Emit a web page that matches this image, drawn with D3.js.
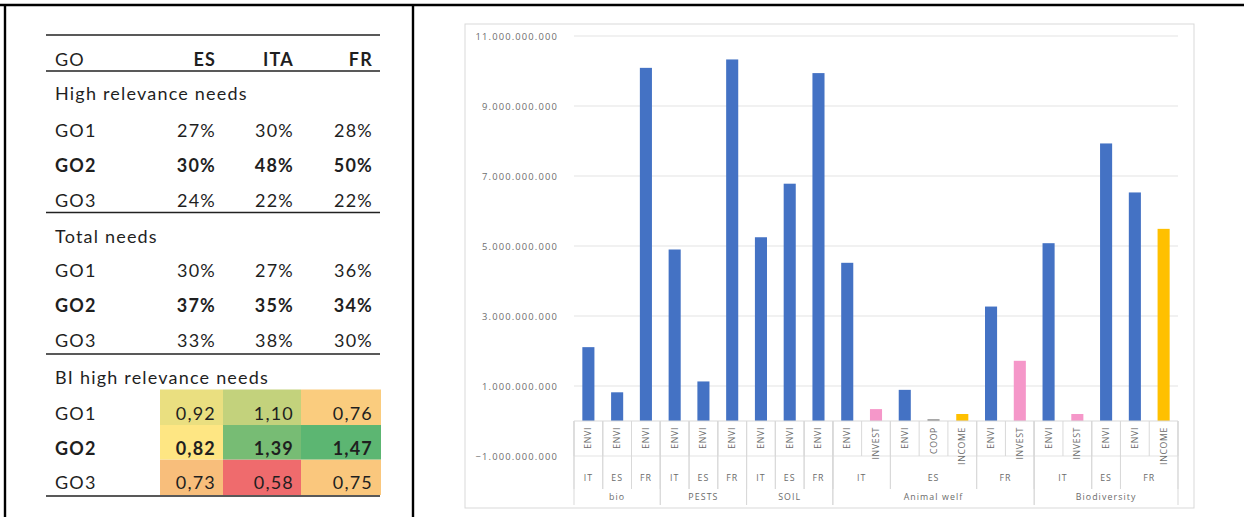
<!DOCTYPE html>
<html>
<head>
<meta charset="utf-8">
<script src="https://cdn.jsdelivr.net/npm/d3@7"></script>
<style>
  html, body { margin: 0; padding: 0; background: #ffffff; }
  svg { display: block; }
</style>
</head>
<body>
<svg id="page" width="1244" height="517"></svg>
<script>
// ---- Table data (share of needs per goal and country) ----
const goRows = ["GO1", "GO2", "GO3"];
const countries = ["ES", "ITA", "FR"];
const highRelevance = [[27, 30, 28], [30, 48, 50], [24, 22, 22]];
const totalNeeds = [[30, 27, 36], [37, 35, 34], [33, 38, 30]];
const biHighRelevance = [[0.92, 1.10, 0.76], [0.82, 1.39, 1.47], [0.73, 0.58, 0.75]];

// ---- Bar chart data (budget per theme / country / measure) ----
const barTheme = ["bio", "bio", "bio", "PESTS", "PESTS", "PESTS", "SOIL", "SOIL", "SOIL",
  "Animal welf", "Animal welf", "Animal welf", "Animal welf", "Animal welf", "Animal welf", "Animal welf",
  "Biodiversity", "Biodiversity", "Biodiversity", "Biodiversity", "Biodiversity"];
const barCountry = ["IT", "ES", "FR", "IT", "ES", "FR", "IT", "ES", "FR",
  "IT", "IT", "ES", "ES", "ES", "FR", "FR",
  "IT", "IT", "ES", "FR", "FR"];
const barMeasure = ["ENVI", "ENVI", "ENVI", "ENVI", "ENVI", "ENVI", "ENVI", "ENVI", "ENVI",
  "ENVI", "INVEST", "ENVI", "COOP", "INCOME", "ENVI", "INVEST",
  "ENVI", "INVEST", "ENVI", "ENVI", "INCOME"];
const barValue = [2.11e9, 0.82e9, 10.09e9, 4.90e9, 1.13e9, 10.33e9, 5.25e9, 6.78e9, 9.94e9,
  4.52e9, 0.34e9, 0.89e9, 0.05e9, 0.20e9, 3.27e9, 1.72e9,
  5.08e9, 0.20e9, 7.93e9, 6.53e9, 5.49e9];
const yTicks = [-1e9, 1e9, 3e9, 5e9, 7e9, 9e9, 11e9];

const svg = d3.select("#page");

// ---- Page frame ----
const frame = svg.append("g").attr("stroke", "#000").attr("stroke-width", 2.4);
frame.append("line").attr("x1", 0).attr("x2", 1244).attr("y1", 5).attr("y2", 5);
frame.append("line").attr("x1", 5).attr("x2", 5).attr("y1", 5).attr("y2", 517);
frame.append("line").attr("x1", 413).attr("x2", 413).attr("y1", 5).attr("y2", 517);

// ---- Table ----
const tbl = svg.append("g").attr("font-family", "Lato, 'Open Sans', sans-serif")
  .attr("font-size", 18).attr("fill", "#1f1f1f")
  .style("letter-spacing", "1.2px");
const colLeft = 55;
const colRight = [216, 294, 373];
const ruleX = [46, 380];
const pct = v => v + "%";
const locale = d3.formatLocale({ decimal: ",", thousands: ".", grouping: [3], currency: ["", ""] });
const dec2 = locale.format(".2f");

function rule(y, w) {
  tbl.append("line").attr("x1", ruleX[0]).attr("x2", ruleX[1]).attr("y1", y).attr("y2", y)
    .attr("stroke", "#222").attr("stroke-width", w);
}
rule(35, 1.4);
rule(71, 1.6);
rule(212.5, 1.6);
rule(354, 1.6);
rule(496, 1.6);

tbl.append("text").attr("x", colLeft).attr("y", 66).text("GO");
tbl.selectAll("text.hdr").data(countries).join("text").attr("class", "hdr")
  .attr("x", (d, i) => colRight[i]).attr("y", 66).attr("text-anchor", "end")
  .attr("font-weight", "bold").text(d => d);

// heat colouring for the BI block (red - yellow - green around the median)
const biAll = biHighRelevance.flat();
const heat = d3.scaleLinear()
  .domain([d3.min(biAll), d3.median(biAll), d3.max(biAll)])
  .range(["#ef6b6d", "#fee683", "#5cb672"])
  .interpolate(d3.interpolateRgb.gamma(1.6));
const cellX = [160, 223, 301, 381];
const cellY = [389.5, 425, 459.5, 495];
biHighRelevance.forEach((row, r) => row.forEach((v, c) => {
  tbl.insert("rect", ":first-child")
    .attr("x", cellX[c]).attr("y", cellY[r])
    .attr("width", cellX[c + 1] - cellX[c]).attr("height", cellY[r + 1] - cellY[r])
    .attr("fill", heat(v)).attr("stroke", "none");
}));

const sections = [
  { title: "High relevance needs", titleY: 100, rowsY: [136.5, 171.5, 206.5], data: highRelevance, fmt: pct },
  { title: "Total needs", titleY: 243, rowsY: [277, 312, 347], data: totalNeeds, fmt: pct },
  { title: "BI high relevance needs", titleY: 383.5, rowsY: [420, 454.5, 488.5], data: biHighRelevance, fmt: dec2 }
];
sections.forEach(sec => {
  tbl.append("text").attr("x", colLeft).attr("y", sec.titleY).text(sec.title);
  sec.data.forEach((row, r) => {
    const bold = goRows[r] === "GO2" ? "bold" : "normal";
    tbl.append("text").attr("x", colLeft).attr("y", sec.rowsY[r])
      .attr("font-weight", bold).text(goRows[r]);
    row.forEach((v, c) => {
      tbl.append("text").attr("x", colRight[c]).attr("y", sec.rowsY[r])
        .attr("text-anchor", "end").attr("font-weight", bold).text(sec.fmt(v));
    });
  });
});

// ---- Bar chart ----
const chart = svg.append("g").attr("font-family", "'Open Sans', sans-serif").attr("fill", "#6b6b6b");
chart.append("rect").attr("x", 465).attr("y", 24).attr("width", 729).attr("height", 484)
  .attr("fill", "none").attr("stroke", "#d9d9d9").attr("stroke-width", 1);

const plotL = 574, plotR = 1178;
const y = d3.scaleLinear().domain([-1e9, 11e9]).range([456, 36]);
const idx = d3.range(barValue.length);
const x = d3.scaleBand().domain(idx).range([plotL, plotR]).paddingInner(0.58).paddingOuter(0.29);
const step = x.step();
const left = i => plotL + i * step;

// gridlines
chart.append("g").selectAll("line").data(yTicks).join("line")
  .attr("x1", plotL).attr("x2", plotR)
  .attr("y1", d => y(d)).attr("y2", d => y(d))
  .attr("stroke", "#e3e3e3").attr("stroke-width", 1);

// value axis labels
const fmtBig = locale.format(",.0f");
const yAxis = d3.axisLeft(y).tickValues(yTicks).tickSize(0).tickPadding(0).tickFormat(fmtBig);
chart.append("g").attr("transform", "translate(558,0)").call(yAxis)
  .call(g => g.select(".domain").remove())
  .call(g => g.attr("font-family", "'Open Sans', sans-serif").attr("font-size", 9.4))
  .call(g => g.selectAll("text").attr("fill", "#6e6e6e")
    .style("letter-spacing", "1.15px").attr("dy", "0.35em"));

// bars
const barColor = { ENVI: "#4472c4", INVEST: "#f597c9", COOP: "#8c8c8c", INCOME: "#ffc000" };
chart.append("g").selectAll("rect").data(idx).join("rect")
  .attr("x", i => x(i)).attr("width", x.bandwidth())
  .attr("y", i => y(Math.max(0, barValue[i])))
  .attr("height", i => Math.abs(y(barValue[i]) - y(0)))
  .attr("fill", i => barColor[barMeasure[i]]);

// category axis baseline
chart.append("line").attr("x1", plotL).attr("x2", plotR).attr("y1", y(0)).attr("y2", y(0))
  .attr("stroke", "#d9d9d9");

// runs of identical keys -> label groups
function runs(keyFn) {
  const out = [];
  idx.forEach(i => {
    const k = keyFn(i);
    if (out.length && out[out.length - 1].key === k) out[out.length - 1].end = i;
    else out.push({ key: k, start: i, end: i });
  });
  return out;
}
const countryRuns = runs(i => barTheme[i] + "|" + barCountry[i]);
const themeRuns = runs(i => barTheme[i]);

const sep = chart.append("g").attr("stroke", "#d9d9d9").attr("stroke-width", 1);
const y0 = y(0);
// boundaries between single categories
d3.range(idx.length + 1).forEach(k => {
  sep.append("line").attr("x1", left(k)).attr("x2", left(k)).attr("y1", y0).attr("y2", 456);
});
// boundaries between country groups
countryRuns.forEach(r => {
  [r.start, r.end + 1].forEach(k => sep.append("line").attr("x1", left(k)).attr("x2", left(k))
    .attr("y1", y0).attr("y2", 489));
});
// boundaries between themes
themeRuns.forEach(r => {
  [r.start, r.end + 1].forEach(k => sep.append("line").attr("x1", left(k)).attr("x2", left(k))
    .attr("y1", y0).attr("y2", 505));
});

// measure labels (rotated)
chart.append("g").attr("font-size", 8.8).selectAll("text").data(idx).join("text")
  .attr("transform", i => `translate(${x(i) + x.bandwidth() / 2 + 3},427) rotate(-90)`)
  .attr("text-anchor", "end").style("letter-spacing", "0.6px")
  .text(i => barMeasure[i]);

// country labels
chart.append("g").attr("font-size", 8.8).selectAll("text").data(countryRuns).join("text")
  .attr("x", r => (left(r.start) + left(r.end + 1)) / 2).attr("y", 481)
  .attr("text-anchor", "middle").style("letter-spacing", "1px")
  .text(r => barCountry[r.start]);

// theme labels
chart.append("g").attr("font-size", 8.8).selectAll("text").data(themeRuns).join("text")
  .attr("x", r => (left(r.start) + left(r.end + 1)) / 2).attr("y", 500)
  .attr("text-anchor", "middle").style("letter-spacing", "1.1px")
  .text(r => barTheme[r.start]);
</script>
</body>
</html>
